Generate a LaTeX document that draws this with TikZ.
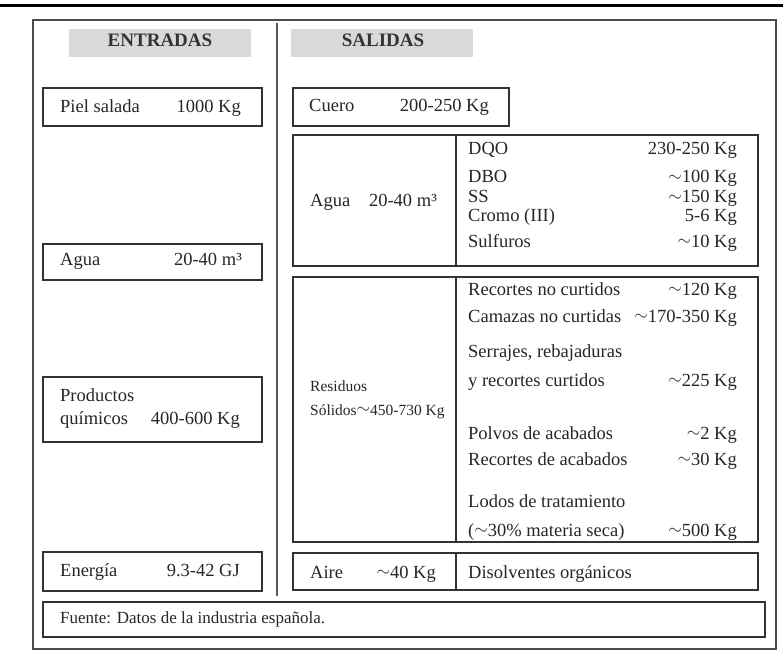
\documentclass[tikz,border=0pt]{standalone}
\usepackage{fontspec}
\setmainfont{Liberation Serif}
\newcommand{\fsA}{\fontsize{18.5}{21}\selectfont}
\newcommand{\fsB}{\fontsize{15.5}{18}\selectfont}
\newcommand{\fsC}{\fontsize{17}{20}\selectfont}
\newcommand{\apx}{\raisebox{1.2pt}{\fontsize{16}{16}\selectfont$\sim$}}
\begin{document}
\begin{tikzpicture}[x=1pt,y=-1pt,
  boxline/.style={draw=black!80, line width=1.1pt},
  lab/.style={anchor=base west, inner sep=0pt, font=\fsA, text=black!85},
  val/.style={anchor=base east, inner sep=0pt, font=\fsA, text=black!85},
  labs/.style={anchor=base west, inner sep=0pt, font=\fsB, text=black!85},
  labc/.style={anchor=base west, inner sep=0pt, font=\fsC, text=black!85},
  head/.style={anchor=base, inner sep=0pt, font=\fontsize{19}{21}\selectfont\bfseries, text=black!80},
  headbg/.style={fill=black!15, draw=none}]
\useasboundingbox (0,0) rectangle (784,671);
% top rule and frame
\draw[line width=2.5pt, black] (0,5.5) -- (783,5.5);
\draw[draw=black!70, line width=1.3pt] (33,20) rectangle (776,649);
\draw[draw=black!65, line width=1.8pt] (277,23) -- (277,596);
% headers
\fill[headbg] (69,29) rectangle (251,57);
\fill[headbg] (291,29) rectangle (473,57);
\node[head] (hin) at (160,47) {ENTRADAS};
\node[head] (hout) at (383,47) {SALIDAS};
% left boxes
\draw[boxline] (43,88) rectangle (262,126);
\draw[boxline] (43,244) rectangle (262,280);
\draw[boxline] (43,377) rectangle (262,442);
\draw[boxline] (43,552) rectangle (262,591);
% right boxes
\draw[boxline] (293,88) rectangle (509,126);
\draw[boxline] (293,135) rectangle (758,266);
\draw[boxline] (456,135) -- (456,266);
\draw[boxline] (293,277) rectangle (758,542);
\draw[boxline] (456,277) -- (456,542);
\draw[boxline] (293,553) rectangle (758,590);
\draw[boxline] (456,553) -- (456,590);
% source box
\draw[boxline] (43,602) rectangle (765,637);
% left texts
\node[lab] (piel) at (60,113) {Piel salada};
\node[val] (pielv) at (241,113) {1000 Kg};
\node[lab] (aguain) at (60,265) {Agua};
\node[val] (aguainv) at (242,265) {20-40 m³};
\node[lab] (prod1) at (60,401) {Productos};
\node[lab] (prod2) at (60,424) {químicos};
\node[val] (prodv) at (240,424) {400-600 Kg};
\node[lab] (ener) at (60,576) {Energía};
\node[val] (enerv) at (240,576) {9.3-42 GJ};
\node[labc] (fuente) at (60,623) {Fuente: Datos de la industria española.};
% right texts
\node[lab] (cuero) at (309,112) {Cuero};
\node[val] (cuerov) at (489,112) {200-250 Kg};
\node[lab] (aguaout) at (310,207) {Agua};
\node[val] (aguaoutv) at (437,207) {20-40 m³};
\node[lab] (dqo) at (468,155) {DQO};
\node[val] (dqov) at (737,155) {230-250 Kg};
\node[lab] (dbo) at (468,183) {DBO};
\node[val] (dbov) at (737,183) {\apx100 Kg};
\node[lab] (ss) at (468,203) {SS};
\node[val] (ssv) at (737,203) {\apx150 Kg};
\node[lab] (cromo) at (468,222) {Cromo (III)};
\node[val] (cromov) at (737,222) {5-6 Kg};
\node[lab] (sulf) at (468,247) {Sulfuros};
\node[val] (sulfv) at (737,247) {\apx10 Kg};
\node[labs] (res1) at (310,391) {Residuos};
\node[labs] (res2) at (310,415) {Sólidos\apx450-730 Kg};
\node[lab] (r1) at (468,295) {Recortes no curtidos};
\node[val] (r1v) at (737,295) {\apx120 Kg};
\node[lab] (r2) at (468,322) {Camazas no curtidas};
\node[val] (r2v) at (737,322) {\apx170-350 Kg};
\node[lab] (r3) at (468,357) {Serrajes, rebajaduras};
\node[lab] (r4) at (468,386) {y recortes curtidos};
\node[val] (r4v) at (737,386) {\apx225 Kg};
\node[lab] (r5) at (468,439) {Polvos de acabados};
\node[val] (r5v) at (737,439) {\apx2 Kg};
\node[lab] (r6) at (468,465) {Recortes de acabados};
\node[val] (r6v) at (737,465) {\apx30 Kg};
\node[lab] (r7) at (468,507) {Lodos de tratamiento};
\node[lab] (r8) at (468,536) {(\apx30\% materia seca)};
\node[val] (r8v) at (737,536) {\apx500 Kg};
\node[lab] (aire) at (310,578) {Aire};
\node[val] (airev) at (436,578) {\apx40 Kg};
\node[lab] (disol) at (468,578) {Disolventes orgánicos};
\end{tikzpicture}
\end{document}
